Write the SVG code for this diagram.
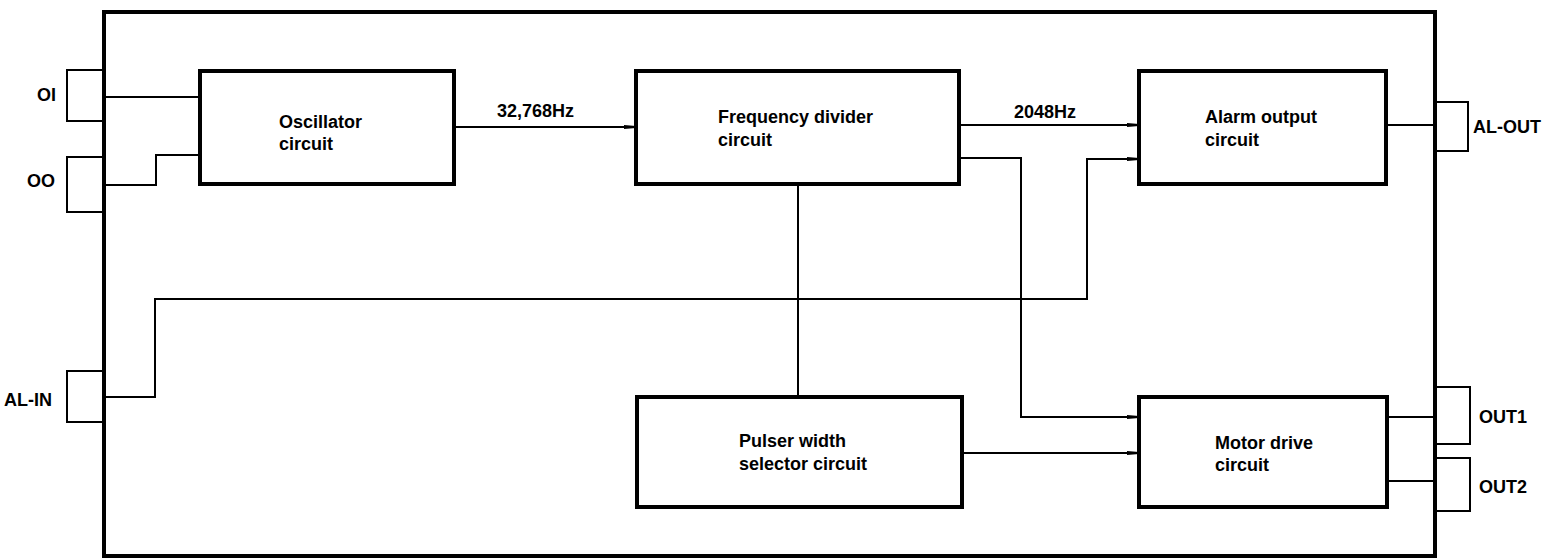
<svg xmlns="http://www.w3.org/2000/svg" width="1560" height="559" viewBox="0 0 1560 559">
<style>
.blk{fill:#fff;stroke:#000;stroke-width:4}
.pin{fill:none;stroke:#000;stroke-width:2}
.wire{fill:none;stroke:#000;stroke-width:2}
text{font-family:"Liberation Sans",Arial,sans-serif;font-weight:bold;font-size:18px;fill:#000}
</style>
<defs>
<marker id="arr" markerWidth="12" markerHeight="6" refX="12" refY="3" orient="auto" markerUnits="userSpaceOnUse">
<path d="M0,1 L12,2 L12,4 L0,5 z" fill="#000"/>
</marker>
</defs>
<rect width="1560" height="559" fill="#fff"/>
<g id="chip"><rect x="104" y="12" width="1331" height="544" class="blk"/></g>
<g id="pin-OI"><polyline points="104,70 67,70 67,121 104,121" class="pin"/><text x="37" y="101">OI</text></g>
<g id="pin-OO"><polyline points="104,157 67,157 67,212 104,212" class="pin"/><text x="27" y="187">OO</text></g>
<g id="pin-ALIN"><polyline points="104,371 67,371 67,422 104,422" class="pin"/><text x="4" y="406">AL-IN</text></g>
<g id="pin-ALOUT"><polyline points="1435,102 1468,102 1468,151 1435,151" class="pin"/><text x="1473" y="133">AL-OUT</text></g>
<g id="pin-OUT1"><polyline points="1435,387 1470,387 1470,444 1435,444" class="pin"/><text x="1479" y="423">OUT1</text></g>
<g id="pin-OUT2"><polyline points="1435,458 1470,458 1470,511 1435,511" class="pin"/><text x="1479" y="493">OUT2</text></g>
<g id="connectors">
<polyline points="104,97 200,97" class="wire"/>
<polyline points="104,185 156,185 156,155 200,155" class="wire"/>
<polyline points="454,127 636,127" class="wire" marker-end="url(#arr)"/>
<polyline points="959,125 1139,125" class="wire" marker-end="url(#arr)"/>
<polyline points="959,158 1021,158 1021,417 1139,417" class="wire" marker-end="url(#arr)"/>
<polyline points="798,184 798,397" class="wire"/>
<polyline points="104,397 155,397 155,299 1087,299 1087,159 1139,159" class="wire" marker-end="url(#arr)"/>
<polyline points="962,453 1139,453" class="wire" marker-end="url(#arr)"/>
<polyline points="1386,125 1435,125" class="wire"/>
<polyline points="1386,417 1435,417" class="wire"/>
<polyline points="1386,481 1435,481" class="wire"/>
<text x="497" y="117">32,768Hz</text>
<text x="1014" y="118">2048Hz</text>
</g>
<g id="oscillator"><rect x="200" y="71" width="254" height="113" class="blk"/><text x="279" y="128">Oscillator</text><text x="279" y="150">circuit</text></g>
<g id="divider"><rect x="636" y="71" width="323" height="113" class="blk"/><text x="718" y="123">Frequency divider</text><text x="718" y="146">circuit</text></g>
<g id="alarm"><rect x="1139" y="71" width="247" height="113" class="blk"/><text x="1205" y="123">Alarm output</text><text x="1205" y="146">circuit</text></g>
<g id="pulser"><rect x="637" y="397" width="325" height="110" class="blk"/><text x="739" y="447">Pulser width</text><text x="739" y="470">selector circuit</text></g>
<g id="motor"><rect x="1139" y="397" width="248" height="110" class="blk"/><text x="1215" y="449">Motor drive</text><text x="1215" y="471">circuit</text></g>
</svg>
